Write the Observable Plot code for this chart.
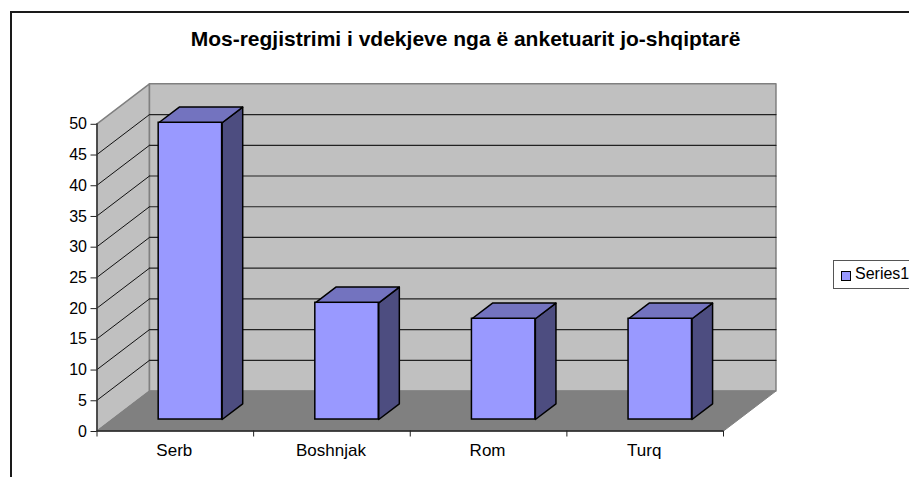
<!DOCTYPE html>
<html>
<head>
<meta charset="utf-8">
<script src="https://cdn.jsdelivr.net/npm/d3@7"></script>
<script src="https://cdn.jsdelivr.net/npm/@observablehq/plot@0.6"></script>
<style>
html,body{margin:0;padding:0;background:#fff;overflow:hidden}
#wrap{position:relative;width:909px;height:477px;overflow:hidden;font-family:"Liberation Sans",Arial,sans-serif;color:#000}
#frame{position:absolute;left:9.5px;top:10.5px;right:-5px;bottom:0;border-left:2px solid #1a1a1a;border-top:2px solid #1a1a1a}
#title{position:absolute;left:0;width:931px;top:27px;text-align:center;font-weight:bold;font-size:21px;line-height:24px;white-space:nowrap}
#legend{position:absolute;left:833px;top:260px;width:90px;height:27px;border:1px solid #555;box-sizing:content-box;font-size:16px;line-height:26px;white-space:nowrap}
#legend i{position:absolute;left:7px;top:10px;width:8px;height:8px;background:#9999ff;border:1px solid #000}
#legend span{position:absolute;left:21px;top:0}
#chart{position:absolute;left:0;top:0}
svg{display:block;background:transparent!important}
</style>
</head>
<body>
<div id="wrap">
  <div id="frame"></div>
  <div id="chart"></div>
  <div id="title"></div>
  <div id="legend"><i></i><span></span></div>
</div>
<script>
const titleText = "Mos-regjistrimi i vdekjeve nga ë anketuarit jo-shqiptarë";
const seriesName = "Series1";
const categories = ["Serb", "Boshnjak", "Rom", "Turq"];
const values = [48.3, 19, 16.4, 16.4];
const yTicks = [0, 5, 10, 15, 20, 25, 30, 35, 40, 45, 50];

const colors = {wall: "#c0c0c0", floor: "#808080", edge: "#808080", front: "#9999ff", top: "#7373bf", side: "#4d4d80"};

// oblique 3D: depth 0 (front) .. 1 (back wall), expressed in data units
const depthX = 0.335, depthY = 6.5;
const barWidth = 0.405, barNear = 0.2875, barFar = 0.68;
const P = (c, v, d) => ({x: c + d * depthX, y: v + d * depthY});
const face = (k, pts) => [...pts, pts[0]].map(([c, v, d]) => ({...P(c, v, d), k}));

const n = categories.length, yMax = yTicks[yTicks.length - 1];
const leftWall = face("l", [[0,0,0],[0,yMax,0],[0,yMax,1],[0,0,1]]);
const backWall = face("b", [[0,0,1],[0,yMax,1],[n,yMax,1],[n,0,1]]);
const floor = face("f", [[0,0,0],[0,0,1],[n,0,1],[n,0,0]]);
const gridLeft = yTicks.slice(1, -1).flatMap(v => [P(0,v,0), P(0,v,1)].map(p => ({...p, k: v})));
const gridBack = yTicks.slice(1, -1).flatMap(v => [P(0,v,1), P(n,v,1)].map(p => ({...p, k: v})));

const bars = categories.map((c, i) => {
  const a = i + (1 - barWidth) / 2, b = a + barWidth, v = values[i];
  return {
    side: face("s"+i, [[b,0,barNear],[b,v,barNear],[b,v,barFar],[b,0,barFar]]),
    top: face("t"+i, [[a,v,barNear],[b,v,barNear],[b,v,barFar],[a,v,barFar]]),
    front: {x1: P(a,0,barNear).x, x2: P(b,0,barNear).x, y1: P(a,0,barNear).y, y2: P(a,v,barNear).y}
  };
});

const poly = (data, fill, stroke, strokeWidth) => Plot.line(data, {x: "x", y: "y", z: "k", fill, stroke, strokeWidth, strokeLinejoin: "round"});

const fontFamily = '"Liberation Sans",Arial,sans-serif';
const chart = Plot.plot({
  width: 909, height: 477,
  marginLeft: 96.5, marginRight: 186, marginTop: 123.3, marginBottom: 46.5,
  style: {fontFamily, fontSize: "16px", background: "transparent", color: "#000", overflow: "visible"},
  x: {domain: [0, n], axis: null},
  y: {domain: [0, yMax], axis: null},
  marks: [
    poly(leftWall, colors.wall, colors.edge, 1.5),
    poly(backWall, colors.wall, colors.edge, 1.5),
    Plot.line(gridLeft, {x: "x", y: "y", z: "k", stroke: "#111", strokeWidth: 1}),
    Plot.line(gridBack, {x: "x", y: "y", z: "k", stroke: "#222", strokeWidth: 1.2}),
    poly(floor, colors.floor, colors.edge, 1),
    ...bars.flatMap(b => [
      poly(b.side, colors.side, "#000", 1.5),
      poly(b.top, colors.top, "#000", 1.5),
      Plot.rect([b.front], {x1: "x1", x2: "x2", y1: "y1", y2: "y2", fill: colors.front, stroke: "#000", strokeWidth: 1.5})
    ]),
    Plot.ruleX([0], {y1: 0, y2: yMax, stroke: "#333", strokeWidth: 1.5}),
    Plot.ruleY([0], {x1: 0, x2: n, stroke: "#222", strokeWidth: 1.5}),
    Plot.axisY({ticks: yTicks, tickSize: 6, tickPadding: 4, label: null, stroke: "#222", fontSize: 16, dy: 0.5}),
    Plot.axisX({ticks: d3.range(n + 1), tickSize: 6, tickFormat: () => "", label: null, stroke: "#222"}),
    Plot.axisX({ticks: categories.map((_, i) => i + 0.5), tickSize: 0, tickPadding: 13, tickFormat: t => categories[t - 0.5], label: null, fontSize: 17, dx: -1})
  ]
});
document.getElementById("chart").append(chart);
document.getElementById("title").textContent = titleText;
document.querySelector("#legend span").textContent = seriesName;
</script>
</body>
</html>
